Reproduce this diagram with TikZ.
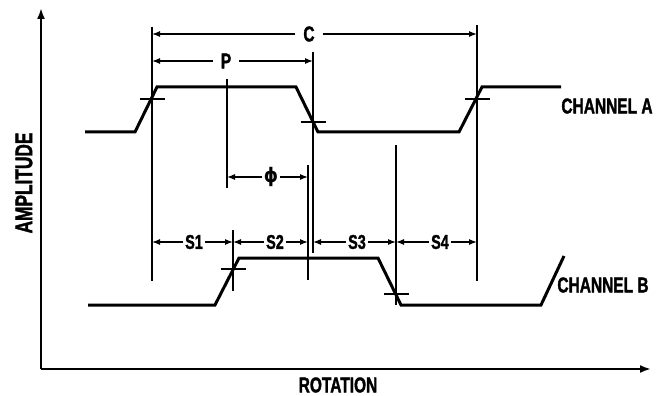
\documentclass[tikz,border=0pt]{standalone}
\usepackage{fontspec}
\newfontfamily\lblfont{Liberation Sans Bold}[FakeStretch=0.72, FakeBold=1.5]
\newfontfamily\symfont{DejaVu Sans Bold}[FakeStretch=0.9]
\usetikzlibrary{arrows.meta}

\begin{document}
\begin{tikzpicture}[x=1pt, y=-1pt, line cap=butt,
    wave/.style = {line width=3pt, line join=miter},
    guide/.style = {line width=1.2pt},
    dim/.style = {line width=1.2pt, -{Latex[length=8pt, width=6pt]}},
    every node/.style = {font=\lblfont\fontsize{21.5}{21.5}\selectfont}]
    \useasboundingbox (0,0) rectangle (665,396);
    % axes
    \coordinate (origin) at (41,369);
    \coordinate (ytop)   at (41,8);
    \coordinate (xend)   at (651,369);
    \draw[line width=2pt, -{Latex[length=11pt, width=8pt]}] (origin) -- (ytop);
    \draw[line width=2pt, -{Latex[length=11pt, width=8pt]}] (origin) -- (xend);
    \node (amp) at (24,183) [rotate=90, font=\lblfont\fontsize{24}{24}\selectfont] {AMPLITUDE};
    \node (rot) at (338,385) [inner sep=0pt] {ROTATION};
    % waveforms
    \draw[wave] (85,132) -- (135,132) -- (157,87) -- (296,87) -- (318,132)
                -- (459,132) -- (482,87) -- (561,87);
    \draw[wave] (88,305) -- (215,305) -- (239,258) -- (378,258) -- (401,305)
                -- (541,305) -- (564,256);
    \node (chA) at (607,106) {CHANNEL A};
    \node (chB) at (603,285) {CHANNEL B};
    % vertical guides
    \foreach \name/\xx/\ya/\yb in {a1/152/27/281, a2/313/52/253, a3/477/25/281,
                                   p/227/79/188, f/308/165/280,
                                   b1/233/230/291, b2/396/145/305} {
      \coordinate (\name top) at (\xx,\ya);
      \coordinate (\name bot) at (\xx,\yb);
      \draw[guide] (\name top) -- (\name bot);
    }
    % crossing ticks
    \foreach \xx/\yy in {152/99, 313/122, 477/99, 233/269, 396/294}
      \draw[guide] (\xx-12.5,\yy) -- (\xx+12.5,\yy);
    % dimensions
    \node (C) at (309,34) [inner sep=8pt] {C};
    \draw[dim] (C) -- (a1top |- C);
    \draw[dim] (C) -- (a3top |- C);
    \node (P) at (226,61) [inner sep=8pt] {P};
    \draw[dim] (P) -- (a1top |- P);
    \draw[dim] (P) -- (a2top |- P);
    \node (phi) at (271,177) [inner sep=2pt, font=\symfont\fontsize{20}{20}\selectfont] {ϕ};
    \draw[dim] (phi) -- (ptop |- phi);
    \draw[dim] (phi) -- (ftop |- phi);
    \begin{scope}[every node/.style = {inner sep=2pt, font=\lblfont\fontsize{20}{20}\selectfont}]
      \node (s1) at (194,242) {S1};
      \node (s2) at (275,242) {S2};
      \node (s3) at (357,242) {S3};
      \node (s4) at (440,242) {S4};
    \end{scope}
    \draw[dim] (s1) -- (a1top |- s1);
    \draw[dim] (s1) -- (b1top |- s1);
    \draw[dim] (s2) -- (b1top |- s2);
    \draw[dim] (s2) -- (ftop |- s2);
    \draw[dim] (s3) -- (a2top |- s3);
    \draw[dim] (s3) -- (b2top |- s3);
    \draw[dim] (s4) -- (b2top |- s4);
    \draw[dim] (s4) -- (a3top |- s4);
\end{tikzpicture}
\end{document}
